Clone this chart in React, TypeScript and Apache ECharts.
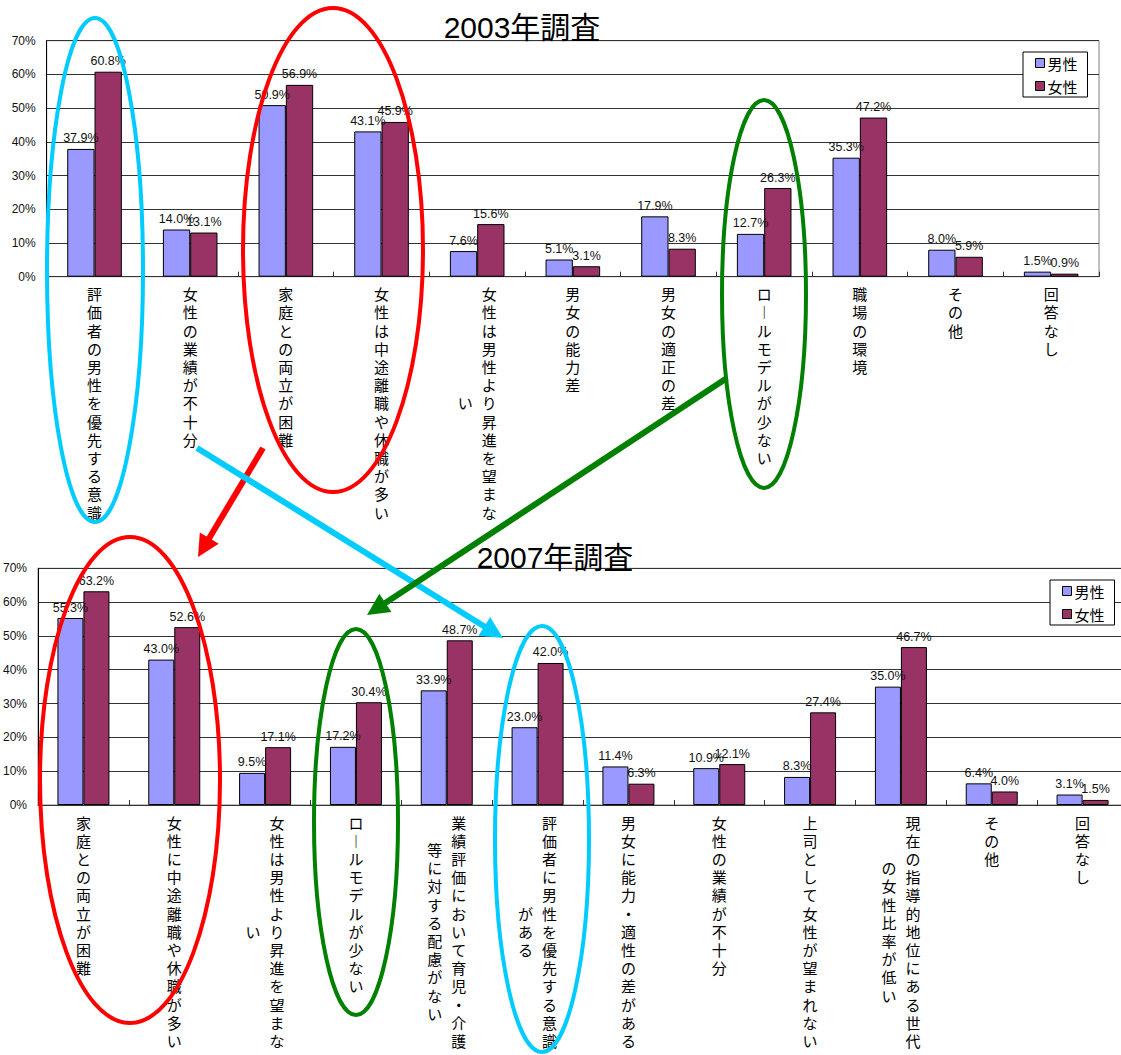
import React, { useEffect, useRef } from 'react';
import * as echarts from 'echarts';

// ---------- data ----------
const seriesNames = ['男性', '女性'];
const titles = ['2003年調査', '2007年調査'];

const cats2003 = [
  '評価者の男性を優先する意識',
  '女性の業績が不十分',
  '家庭との両立が困難',
  '女性は中途離職や休職が多い',
  '女性は男性より昇進を望まない',
  '男女の能力差',
  '男女の適正の差',
  'ロールモデルが少ない',
  '職場の環境',
  'その他',
  '回答なし',
];
const male2003 = [37.9, 14.0, 50.9, 43.1, 7.6, 5.1, 17.9, 12.7, 35.3, 8.0, 1.5];
const female2003 = [60.8, 13.1, 56.9, 45.9, 15.6, 3.1, 8.3, 26.3, 47.2, 5.9, 0.9];

const cats2007 = [
  '家庭との両立が困難',
  '女性に中途離職や休職が多い',
  '女性は男性より昇進を望まない',
  'ロールモデルが少ない',
  '業績評価において育児・介護等に対する配慮がない',
  '評価者に男性を優先する意識がある',
  '男女に能力・適性の差がある',
  '女性の業績が不十分',
  '上司として女性が望まれない',
  '現在の指導的地位にある世代の女性比率が低い',
  'その他',
  '回答なし',
];
const male2007 = [55.3, 43.0, 9.5, 17.2, 33.9, 23.0, 11.4, 10.9, 8.3, 35.0, 6.4, 3.1];
const female2007 = [63.2, 52.6, 17.1, 30.4, 48.7, 42.0, 6.3, 12.1, 27.4, 46.7, 4.0, 1.5];

const yMax = 70;
const yStep = 10;

// ---------- styling ----------
const LAT = 'Arial, "Liberation Sans", sans-serif';
const CJK = '"Noto Sans CJK JP", "Noto Sans CJK SC", sans-serif';
const MALE = '#9999FF';
const FEMALE = '#993366';
const COL = 13;
const LH = 18.2;
const FS = 15;
const COLW = 39;
const VERT: Record<string, string> = { 'ー': '︱' };

function splitCols(s: string): [string[], string[]] {
  const ch = Array.from(s).map((c) => VERT[c] ?? c);
  return [ch.slice(0, COL), ch.slice(COL)];
}
function spacerKey(off: number) {
  return 's' + Math.round(off * 2);
}
function col1Label(value: string) {
  const [c1, c2] = splitCols(value);
  const st = c2.length ? 'r' : 'c';
  return c1.map((c) => `{${st}|${c}}`).join('\n');
}
function col2Label(value: string) {
  const [c1, c2] = splitCols(value);
  if (!c2.length) return '';
  const off = (c1.length - c2.length) / 2;
  const lines: string[] = [];
  if (off > 0) lines.push(`{${spacerKey(off)}| }`);
  c2.forEach((c) => lines.push(`{l|${c}}`));
  return lines.join('\n');
}
function buildRich(cats: string[]) {
  const base = { fontSize: FS, lineHeight: LH, fontFamily: CJK, color: '#000' };
  const rich: Record<string, any> = {
    c: { ...base },
    r: { ...base, width: COLW, align: 'right' },
    l: { ...base, width: COLW, align: 'left' },
  };
  cats.forEach((v) => {
    const [c1, c2] = splitCols(v);
    if (c2.length) {
      const off = (c1.length - c2.length) / 2;
      if (off > 0) rich[spacerKey(off)] = { fontSize: 1, lineHeight: off * LH, width: 1 };
    }
  });
  return rich;
}

const grids = [
  { left: 46.7, top: 40.7, width: 1052.3, height: 236 },
  { left: 37.3, top: 568.3, width: 1090.7, height: 236.7 },
];
const barWidths = [27.3, 26];
const legendPos = [
  { left: 1023, top: 52 },
  { left: 1050, top: 580 },
];
const titlePos = [
  { x: 522, y: 27 },
  { x: 555, y: 557 },
];

const CYAN = '#00CCFF';
const RED = '#FF0000';
const GREEN = '#008000';
const ellipses = [
  { cx: 95, cy: 270, rx: 48, ry: 252, c: CYAN },
  { cx: 333, cy: 250, rx: 90, ry: 242, c: RED },
  { cx: 764, cy: 294, rx: 42, ry: 194, c: GREEN },
  { cx: 130, cy: 780, rx: 90, ry: 243, c: RED },
  { cx: 356, cy: 822, rx: 42, ry: 193, c: GREEN },
  { cx: 542, cy: 839, rx: 47, ry: 213, c: CYAN },
];
const arrows = [
  { x1: 263, y1: 448, x2: 198, y2: 557, c: RED },
  { x1: 197, y1: 448, x2: 503, y2: 638, c: CYAN },
  { x1: 727, y1: 378, x2: 367, y2: 615, c: GREEN },
];

function arrowGraphics(a: any) {
  const dx = a.x2 - a.x1;
  const dy = a.y2 - a.y1;
  const len = Math.sqrt(dx * dx + dy * dy);
  const ux = dx / len;
  const uy = dy / len;
  const headL = 22;
  const headW = 11;
  const bx = a.x2 - ux * headL;
  const by = a.y2 - uy * headL;
  const px = -uy;
  const py = ux;
  return [
    {
      type: 'line',
      z: 100,
      shape: { x1: a.x1, y1: a.y1, x2: bx + ux * 2, y2: by + uy * 2 },
      style: { stroke: a.c, lineWidth: 6 },
    },
    {
      type: 'polygon',
      z: 100,
      shape: {
        points: [
          [a.x2, a.y2],
          [bx + px * headW, by + py * headW],
          [bx - px * headW, by - py * headW],
        ],
      },
      style: { fill: a.c },
    },
  ];
}

function buildOption() {
  const catSets = [cats2003, cats2007];
  const maleSets = [male2003, male2007];
  const femaleSets = [female2003, female2007];

  const xAxis: any[] = [];
  catSets.forEach((cats, gi) => {
    const rich = buildRich(cats);
    const lbl = { interval: 0, margin: 8, fontSize: FS, lineHeight: LH, fontFamily: CJK, color: '#000', rich };
    xAxis.push({
      type: 'category',
      gridIndex: gi,
      position: 'bottom',
      data: cats,
      axisLine: { show: true, lineStyle: { color: '#333', width: 1 } },
      axisTick: { show: true, inside: true, length: 5, lineStyle: { color: '#333' } },
      splitLine: { show: false },
      axisLabel: { ...lbl, formatter: (v: string) => col1Label(v) },
    });
    xAxis.push({
      type: 'category',
      gridIndex: gi,
      position: 'bottom',
      data: cats,
      axisLine: { show: false },
      axisTick: { show: false },
      splitLine: { show: false },
      axisLabel: { ...lbl, formatter: (v: string) => col2Label(v) },
    });
  });

  const yAxis = grids.map((_, gi) => ({
    type: 'value',
    gridIndex: gi,
    min: 0,
    max: yMax,
    interval: yStep,
    axisLine: { show: true, lineStyle: { color: '#000' } },
    axisTick: { show: false },
    axisLabel: { formatter: '{value}%', fontSize: 12, fontFamily: LAT, color: '#111', margin: 11 },
    splitLine: { show: true, lineStyle: { color: '#333', width: 1 } },
  }));

  const series: any[] = [];
  catSets.forEach((_, gi) => {
    [maleSets[gi], femaleSets[gi]].forEach((vals, si) => {
      series.push({
        type: 'bar',
        name: seriesNames[si],
        data: vals,
        xAxisIndex: gi * 2,
        yAxisIndex: gi,
        barWidth: barWidths[gi],
        barGap: '0%',
        itemStyle: { color: si === 0 ? MALE : FEMALE, borderColor: '#000', borderWidth: 1 },
        label: {
          show: true,
          position: 'top',
          distance: 4,
          formatter: (p: any) => Number(p.value).toFixed(1) + '%',
          fontSize: 12.5,
          fontFamily: LAT,
          color: '#111',
        },
      });
    });
  });

  const legend = legendPos.map((p) => ({
    data: seriesNames,
    orient: 'vertical',
    left: p.left,
    top: p.top,
    icon: 'rect',
    itemWidth: 9,
    itemHeight: 9,
    itemGap: 7,
    padding: [3, 10, 3, 12],
    borderColor: '#000',
    borderWidth: 1,
    backgroundColor: '#fff',
    itemStyle: { borderColor: '#000', borderWidth: 1 },
    textStyle: { fontSize: 15, fontFamily: CJK, color: '#000', lineHeight: 16, padding: [0, 0, 0, -2] },
    selectedMode: false,
  }));

  const graphic: any[] = [];
  titles.forEach((t, i) => {
    graphic.push({
      type: 'text',
      x: titlePos[i].x,
      y: titlePos[i].y,
      z: 50,
      style: {
        text: t,
        fontSize: 30,
        fontFamily: '"Liberation Sans", Arial, "Noto Sans CJK JP"',
        fill: '#000',
        align: 'center',
        verticalAlign: 'middle',
      },
    });
  });
  ellipses.forEach((e) => {
    graphic.push({
      type: 'ellipse',
      z: 100,
      shape: { cx: e.cx, cy: e.cy, rx: e.rx, ry: e.ry },
      style: { fill: 'transparent', stroke: e.c, lineWidth: 4 },
    });
  });
  arrows.forEach((a) => arrowGraphics(a).forEach((g) => graphic.push(g)));

  return {
    animation: false,
    backgroundColor: '#fff',
    grid: grids.map((g) => ({ ...g, show: true, borderColor: '#808080', borderWidth: 1, containLabel: false })),
    xAxis,
    yAxis,
    legend,
    series,
    graphic,
  };
}

export default function App() {
  const ref = useRef<HTMLDivElement>(null);
  useEffect(() => {
    document.body.style.margin = '0';
    document.body.style.overflow = 'hidden';
    if (!ref.current) return;
    const chart = echarts.init(ref.current, undefined, { renderer: 'svg' });
    chart.setOption(buildOption() as any);
    return () => chart.dispose();
  }, []);
  return <div ref={ref} style={{ width: 1130, height: 1055 }} />;
}
